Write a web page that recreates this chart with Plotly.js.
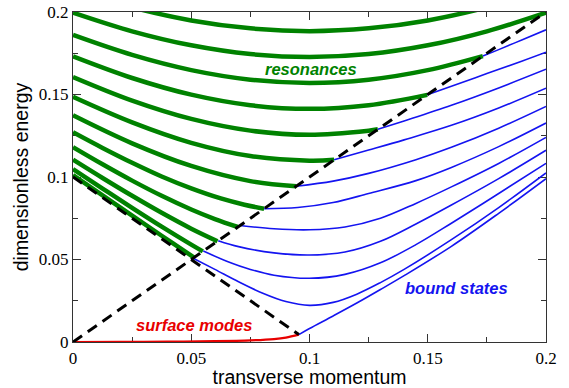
<!DOCTYPE html>
<html>
<head>
<meta charset="utf-8">
<script src="https://cdn.plot.ly/plotly-3.0.1.min.js"></script>
<style>
html,body{margin:0;padding:0;background:#fff;}
#chart{width:569px;height:388px;}
</style>
</head>
<body>
<div id="chart"></div>
<script>
// ---- resonances (green, thick) : transverse momentum k, energy E ----
const res1K = [0, 0.0125, 0.025, 0.0375, 0.05, 0.0512];
const res1E = [0.1012, 0.0889, 0.0766, 0.0644, 0.0524, 0.0512];
const res2K = [0, 0.0125, 0.025, 0.0375, 0.05, 0.0549];
const res2E = [0.1048, 0.0930, 0.0813, 0.0699, 0.0590, 0.0549];
const res3K = [0, 0.0125, 0.025, 0.0375, 0.05, 0.0611];
const res3E = [0.1105, 0.0994, 0.0886, 0.0783, 0.0687, 0.0611];
const res4K = [0, 0.0125, 0.025, 0.0375, 0.05, 0.06, 0.0697];
const res4E = [0.1181, 0.1077, 0.0978, 0.0886, 0.0803, 0.0745, 0.0697];
const res5K = [0, 0.0125, 0.025, 0.0375, 0.05, 0.0625, 0.0725, 0.0808];
const res5E = [0.1271, 0.1176, 0.1086, 0.1003, 0.0931, 0.0870, 0.0832, 0.0808];
const res6K = [0, 0.025, 0.05, 0.075, 0.0944];
const res6E = [0.1374, 0.1204, 0.1067, 0.0975, 0.0944];
const res7K = [0, 0.025, 0.05, 0.075, 0.1, 0.1104];
const res7E = [0.1486, 0.1331, 0.1207, 0.1127, 0.1099, 0.1104];
const res8K = [0, 0.025, 0.05, 0.075, 0.1, 0.125, 0.1289];
const res8E = [0.1606, 0.1463, 0.1352, 0.1281, 0.1256, 0.1281, 0.1289];
const res9K = [0, 0.025, 0.05, 0.075, 0.1, 0.125, 0.1498];
const res9E = [0.1731, 0.1600, 0.1499, 0.1435, 0.1413, 0.1435, 0.1498];
const res10K = [0, 0.025, 0.05, 0.075, 0.1, 0.125, 0.15, 0.1733];
const res10E = [0.1861, 0.1740, 0.1648, 0.1590, 0.1570, 0.1590, 0.1648, 0.1733];
const res11K = [0, 0.025, 0.05, 0.075, 0.1, 0.125, 0.15, 0.175, 0.2];
const res11E = [0.1996, 0.1883, 0.1798, 0.1745, 0.1727, 0.1745, 0.1798, 0.1883, 0.1996];
const res12K = [0, 0.025, 0.05, 0.075, 0.1, 0.125, 0.15, 0.175, 0.2];
const res12E = [0.2133, 0.2028, 0.1949, 0.1901, 0.1884, 0.1901, 0.1949, 0.2028, 0.2133];

// ---- bound states (blue, thin) ----
const bnd1K = [0.0508, 0.06, 0.07, 0.08, 0.09, 0.1, 0.11, 0.12, 0.13, 0.14, 0.16, 0.18, 0.2];
const bnd1E = [0.0508, 0.0440, 0.0365, 0.0297, 0.0245, 0.0222, 0.0240, 0.0290, 0.0360, 0.0440, 0.0620, 0.0815, 0.1025];
const bnd2K = [0.0551, 0.065, 0.075, 0.085, 0.1, 0.115, 0.13, 0.145, 0.16, 0.18, 0.2];
const bnd2E = [0.0551, 0.0490, 0.0440, 0.0405, 0.0386, 0.0410, 0.0480, 0.0590, 0.0720, 0.0900, 0.1083];
const bnd3K = [0.0614, 0.07, 0.085, 0.1, 0.115, 0.13, 0.145, 0.16, 0.18, 0.2];
const bnd3E = [0.0614, 0.0578, 0.0540, 0.0527, 0.0545, 0.0610, 0.0715, 0.0830, 0.0990, 0.1162];
const bnd4K = [0.0706, 0.085, 0.1, 0.115, 0.13, 0.145, 0.16, 0.18, 0.2];
const bnd4E = [0.0706, 0.0686, 0.0680, 0.0697, 0.0750, 0.0840, 0.0940, 0.1082, 0.1240];
const bnd5K = [0.0808, 0.095, 0.11, 0.125, 0.145, 0.16, 0.18, 0.2];
const bnd5E = [0.0808, 0.0815, 0.0845, 0.0900, 0.0978, 0.1058, 0.1184, 0.1327];
const bnd6K = [0.0944, 0.11, 0.125, 0.145, 0.16, 0.18, 0.2];
const bnd6E = [0.0944, 0.0975, 0.1022, 0.1105, 0.1180, 0.1296, 0.1428];
const bnd7K = [0.1104, 0.125, 0.14, 0.16, 0.18, 0.2];
const bnd7E = [0.1104, 0.1163, 0.1225, 0.1313, 0.1418, 0.1538];
const bnd8K = [0.1289, 0.14, 0.16, 0.18, 0.2];
const bnd8E = [0.1289, 0.1340, 0.1435, 0.1540, 0.1653];
const bnd9K = [0.1498, 0.16, 0.175, 0.19, 0.2];
const bnd9E = [0.1498, 0.1550, 0.1627, 0.1703, 0.1756];
const bnd10K = [0.1733, 0.18, 0.19, 0.2];
const bnd10E = [0.1733, 0.1772, 0.1832, 0.1892];
const bnd0K = [0.0955, 0.1, 0.11, 0.12, 0.13, 0.14, 0.16, 0.18, 0.2];
const bnd0E = [0.0045, 0.0082, 0.0158, 0.0236, 0.0318, 0.0402, 0.0580, 0.0780, 0.0990];

// ---- surface modes (red) ----
const surfK = [0, 0.02, 0.04, 0.06, 0.075, 0.085, 0.09, 0.0955];
const surfE = [0, 0.0001, 0.0002, 0.0005, 0.0010, 0.0018, 0.0027, 0.0045];

// ---- dashed light lines ----
const lightK = [0, 0.2];
const lightE = [0, 0.2];
const foldK = [0, 0.0955];
const foldE = [0.1, 0.0045];

// ---- axis ticks ----
const tickVals = [0, 0.05, 0.1, 0.15, 0.2];
const tickText = ['0', '0.05', '0.1', '0.15', '0.2'];
const minorVals = [0.025, 0.075, 0.125, 0.175];

const resonances = [
  [res1K, res1E], [res2K, res2E], [res3K, res3E], [res4K, res4E], [res5K, res5E], [res6K, res6E],
  [res7K, res7E], [res8K, res8E], [res9K, res9E], [res10K, res10E], [res11K, res11E], [res12K, res12E]
];
const bounds = [
  [bnd0K, bnd0E], [bnd1K, bnd1E], [bnd2K, bnd2E], [bnd3K, bnd3E], [bnd4K, bnd4E], [bnd5K, bnd5E],
  [bnd6K, bnd6E], [bnd7K, bnd7E], [bnd8K, bnd8E], [bnd9K, bnd9E], [bnd10K, bnd10E]
];

const GREEN = '#008200', BLUE = '#1414f0', RED = '#e80000';
const traces = [];
resonances.forEach(([k, e]) => traces.push({
  x: k, y: e, type: 'scatter', mode: 'lines',
  line: {color: GREEN, width: 4.5, shape: 'spline', smoothing: 1}, hoverinfo: 'skip'
}));
bounds.forEach(([k, e]) => traces.push({
  x: k, y: e, type: 'scatter', mode: 'lines',
  line: {color: BLUE, width: 1.6, shape: 'spline', smoothing: 1}, hoverinfo: 'skip'
}));
traces.push({x: surfK, y: surfE, type: 'scatter', mode: 'lines',
  line: {color: RED, width: 2.2, shape: 'spline'}, hoverinfo: 'skip'});
traces.push({x: lightK, y: lightE, type: 'scatter', mode: 'lines',
  line: {color: '#000', width: 3, dash: '11px,7px'}, hoverinfo: 'skip'});
traces.push({x: foldK, y: foldE, type: 'scatter', mode: 'lines',
  line: {color: '#000', width: 3, dash: '11px,7px'}, hoverinfo: 'skip'});

const TICKFONT = {family: '"Liberation Serif", "Times New Roman", serif', size: 17, color: '#000'};
const TITLEFONT = {family: '"Liberation Sans", Arial, sans-serif', size: 19.5, color: '#000'};
const axisCommon = {
  range: [0, 0.2], tickmode: 'array', tickvals: tickVals, ticktext: tickText,
  ticks: 'inside', ticklen: 8, tickwidth: 1, tickcolor: '#333',
  showline: true, linecolor: '#333', linewidth: 1.2, mirror: 'ticks',
  showgrid: false, zeroline: false, layer: 'below traces',
  minor: {ticks: 'inside', tickmode: 'array', tickvals: minorVals, ticklen: 5, tickcolor: '#333', showgrid: false},
  tickfont: TICKFONT
};

const layout = {
  width: 569, height: 388,
  margin: {l: 73, r: 23, t: 12, b: 46},
  paper_bgcolor: '#fff', plot_bgcolor: '#fff',
  showlegend: false,
  xaxis: Object.assign({}, axisCommon, {
    title: {text: 'transverse momentum', font: TITLEFONT, standoff: 4}
  }),
  yaxis: Object.assign({}, axisCommon, {
    title: {text: 'dimensionless energy', font: TITLEFONT, standoff: 4}
  }),
  annotations: [
    {x: 0.1005, y: 0.1653, xref: 'x', yref: 'y', text: '<b><i>resonances</i></b>', showarrow: false,
     font: {family: '"Liberation Sans", Arial, sans-serif', size: 16.5, color: GREEN}},
    {x: 0.1623, y: 0.0325, xref: 'x', yref: 'y', text: '<b><i>bound states</i></b>', showarrow: false,
     font: {family: '"Liberation Sans", Arial, sans-serif', size: 16.5, color: BLUE}},
    {x: 0.0511, y: 0.0101, xref: 'x', yref: 'y', text: '<b><i>surface modes</i></b>', showarrow: false,
     font: {family: '"Liberation Sans", Arial, sans-serif', size: 16.5, color: RED}}
  ]
};

Plotly.newPlot('chart', traces, layout, {displayModeBar: false, staticPlot: true});
</script>
</body>
</html>
